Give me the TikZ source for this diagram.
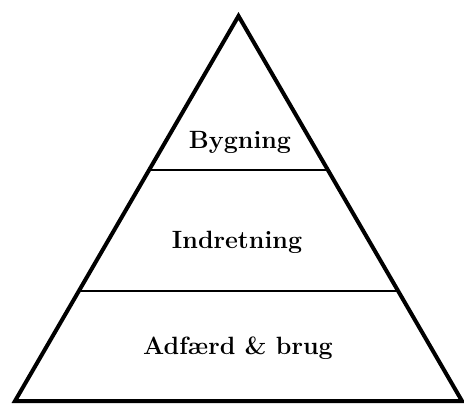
\documentclass[tikz,border=0pt]{standalone}
\usepackage{fontspec}
\usepackage{tikz}
\usetikzlibrary{calc}

\begin{document}
\begin{tikzpicture}[
    x=1pt, y=-1pt,
    tier/.style={font=\fontsize{25}{29}\selectfont\bfseries, inner sep=1pt},
    outline/.style={line width=4pt, line join=miter},
    divider/.style={line width=2pt}
]
\useasboundingbox (0,0) rectangle (464,408);

\coordinate (top) at (238.5,16);
\coordinate (bl) at (15,401);
\coordinate (br) at (462,401);

\draw[outline] (top) -- (br) -- (bl) -- cycle;

% dividers between the levels
\coordinate (d1l) at ($(top)!0.4!(bl)$);
\coordinate (d1r) at ($(top)!0.4!(br)$);
\coordinate (d2l) at ($(top)!0.715!(bl)$);
\coordinate (d2r) at ($(top)!0.715!(br)$);
\draw[divider] (d1l) -- (d1r);
\draw[divider] (d2l) -- (d2r);

\node[tier] (bygning) at (240,142) {Bygning};
\node[tier] (indretning) at (237,242) {Indretning};
\node[tier] (adfaerd) at (238,348) {Adfærd \& brug};
\end{tikzpicture}
\end{document}
